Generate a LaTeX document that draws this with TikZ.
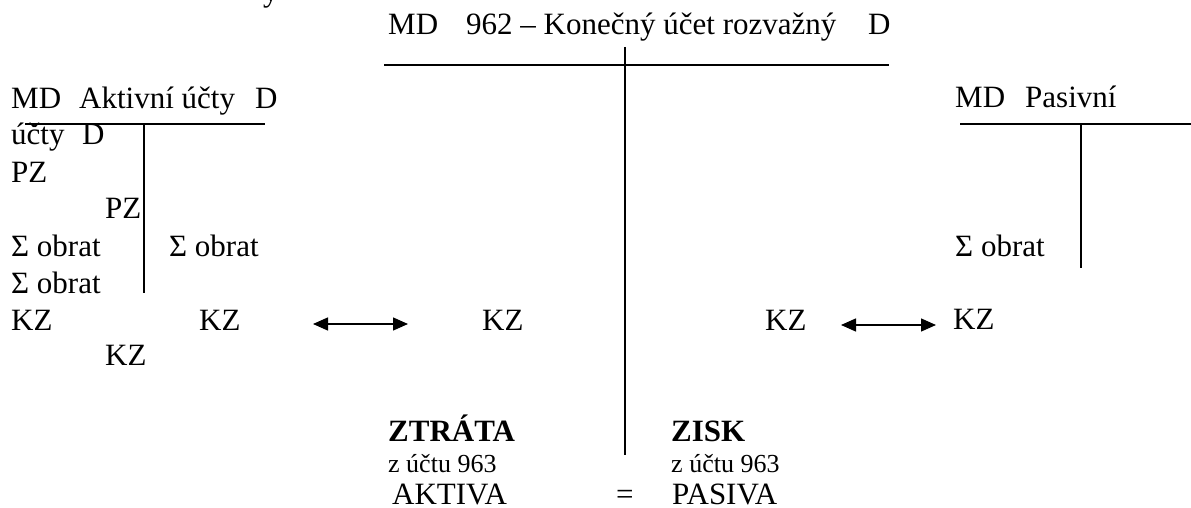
\documentclass[tikz,border=0pt]{standalone}
\usepackage{fontspec}
\setmainfont{Liberation Serif}
\usetikzlibrary{arrows.meta}
\begin{document}
\begin{tikzpicture}[x=1pt,y=-1pt,
  txt/.style={anchor=base west,inner sep=0pt,font=\fontsize{31}{37}\selectfont},
  small/.style={anchor=base west,inner sep=0pt,font=\fontsize{26}{30}\selectfont},
  bold/.style={txt,font=\fontsize{31}{37}\selectfont\bfseries},
  rule/.style={line width=1.4pt},
  link/.style={line width=1.4pt,{Triangle[length=15pt,width=13pt]}-{Triangle[length=15pt,width=13pt]}}]
\useasboundingbox (0,0) rectangle (1191,508);
\clip (0,0) rectangle (1191,508);

% clipped heading above the sheet
\node[txt] (cut) at (263,1.5) {y};

% central balance account 962
\node[txt] (cmd) at (388,35) {MD};
\node[txt] (ctitle) at (466,35) {962 – Konečný účet rozvažný};
\node[txt] (cd) at (868,35) {D};
\coordinate (chl) at (384,65);
\coordinate (chr) at (889,65);
\coordinate (cvt) at (625,47);
\coordinate (cvb) at (625,455);
\draw[rule] (chl) -- (chr);
\draw[rule] (cvt) -- (cvb);

% asset account
\node[txt] (amd) at (11,109) {MD};
\node[txt] (aname) at (79,109) {Aktivní účty};
\node[txt] (ad) at (255,109) {D};
\coordinate (ahl) at (25,124);
\coordinate (ahr) at (265,124);
\coordinate (avt) at (144,124);
\coordinate (avb) at (144,293);
\draw[rule] (ahl) -- (ahr);
\draw[rule] (avt) -- (avb);
\node[txt] (a1) at (11,145) {účty};
\node[txt] (a1d) at (82,145) {D};
\node[txt] (apz1) at (11,182) {PZ};
\node[txt] (apz2) at (105,218) {PZ};
\node[txt] (aob1) at (11,256) {Σ obrat};
\node[txt] (aob2) at (169,256) {Σ obrat};
\node[txt] (aob3) at (11,293) {Σ obrat};
\node[txt] (akz1) at (11,330) {KZ};
\node[txt] (akz2) at (199,330) {KZ};
\node[txt] (akz3) at (105,365) {KZ};

% closing balances carried to 962
\node[txt] (ckz1) at (482,330) {KZ};
\node[txt] (ckz2) at (765,330) {KZ};
\coordinate (l1a) at (313,324);
\coordinate (l1b) at (408,324);
\draw[link] (l1a) -- (l1b);

% liability account
\node[txt] (pmd) at (955,108) {MD};
\node[txt] (pname) at (1025,108) {Pasivní};
\coordinate (phl) at (960,124);
\coordinate (phr) at (1191,124);
\coordinate (pvt) at (1081,124);
\coordinate (pvb) at (1081,268);
\draw[rule] (phl) -- (phr);
\draw[rule] (pvt) -- (pvb);
\node[txt] (pob) at (955,256) {Σ obrat};
\node[txt] (pkz) at (953,329) {KZ};
\coordinate (l2a) at (841,325);
\coordinate (l2b) at (936,325);
\draw[link] (l2a) -- (l2b);

% result and balance equation
\node[bold] (loss) at (388,441) {ZTRÁTA};
\node[bold] (profit) at (671,441) {ZISK};
\node[small] (lossfrom) at (388,472) {z účtu 963};
\node[small] (profitfrom) at (671,472) {z účtu 963};
\node[txt] (assets) at (392,504) {AKTIVA};
\node[txt] (eq) at (616,504) {=};
\node[txt] (liab) at (672,504) {PASIVA};
\end{tikzpicture}
\end{document}
